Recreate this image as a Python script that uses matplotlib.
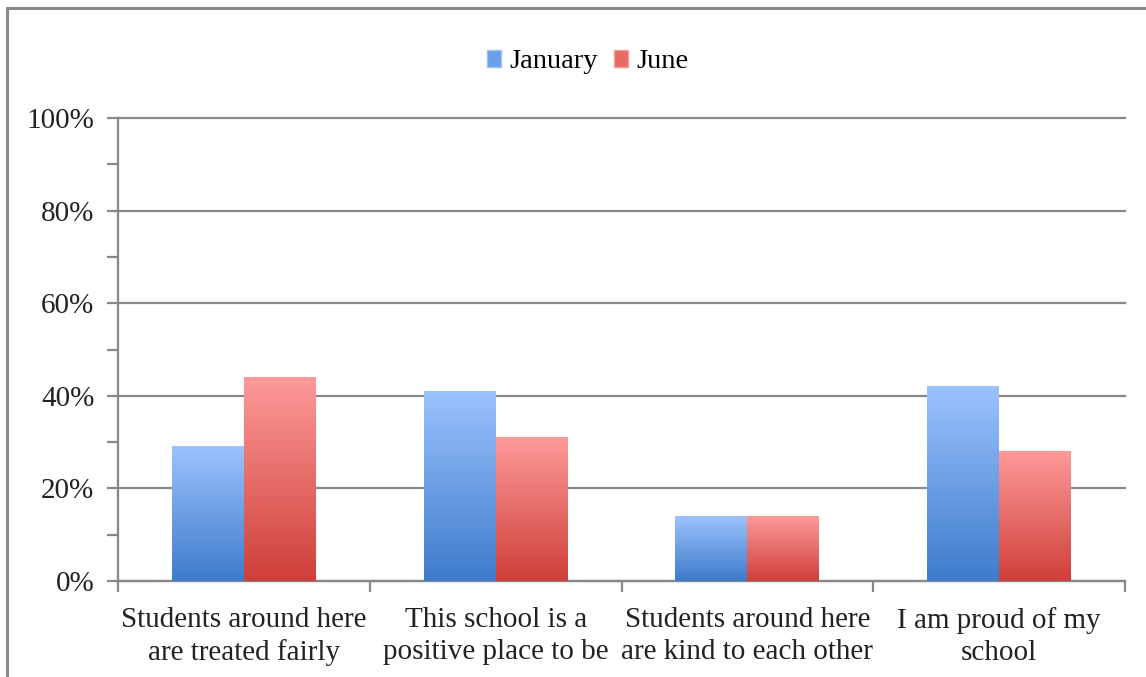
import numpy as np
import matplotlib
matplotlib.use("Agg")
import matplotlib.pyplot as plt
from matplotlib.colors import LinearSegmentedColormap
from matplotlib.patches import Rectangle, Patch

plt.rcParams['font.family'] = ['Liberation Serif', 'DejaVu Serif']

# data
categories = ['Students around here\nare treated fairly',
              'This school is a\npositive place to be',
              'Students around here\nare kind to each other',
              'I am proud of my\nschool']
january = [29, 41, 14, 42]
june = [44, 31, 14, 28]
series_names = ['January', 'June']

fig = plt.figure(figsize=(11.46, 6.77), dpi=100)
ax = fig.add_axes([0.103, 0.1418, 0.8787, 0.6839])

# outer chart border (cut off on the right and bottom)
fig.patches.append(Rectangle((7/1146, -0.05), 1.2, 1 - 8/677 + 0.05,
                             transform=fig.transFigure, fill=False,
                             edgecolor='#8a8a8a', linewidth=2.2, zorder=0))

x = np.arange(len(categories))
w = 0.286
bars_jan = ax.bar(x - w/2, january, w, color='none', zorder=3)
bars_jun = ax.bar(x + w/2, june, w, color='none', zorder=3)

blue_cmap = LinearSegmentedColormap.from_list('b', ['#3d7ccb', '#9cc2fd'])
red_cmap = LinearSegmentedColormap.from_list('r', ['#cf3f39', '#fd9a99'])
grad = np.linspace(0, 1, 256).reshape(-1, 1)

for bars, cmap in [(bars_jan, blue_cmap), (bars_jun, red_cmap)]:
    for b in bars:
        x0, y0 = b.get_x(), b.get_y()
        x1, y1 = x0 + b.get_width(), y0 + b.get_height()
        ax.imshow(grad, cmap=cmap, extent=(x0, x1, y0, y1), origin='lower',
                  aspect='auto', zorder=3, interpolation='bicubic')

ax.set_xlim(-0.5, len(categories) - 0.5)
ax.set_ylim(0, 100)

ax.set_yticks(range(0, 101, 20))
ax.set_yticklabels([f'{v}%' for v in range(0, 101, 20)], fontsize=21, color='#222222')
ax.set_yticks(range(10, 100, 20), minor=True)
ax.yaxis.grid(True, color='#888888', linewidth=1.6, zorder=1)
for gl in ax.get_ygridlines():
    gl.set_clip_on(False)
ax.set_axisbelow(True)

ax.set_xticks(x)
ax.set_xticklabels(categories, fontsize=21, color='#222222', linespacing=1.28)
ax.set_xticks(np.arange(-0.5, len(categories)), minor=True)
ax.tick_params(axis='x', which='major', length=0, pad=19)
ax.tick_params(axis='x', which='minor', length=8, width=1.6, color='#888888')
ax.tick_params(axis='y', which='both', length=8, width=1.6, color='#888888', pad=9)

for s in ['top', 'right']:
    ax.spines[s].set_visible(False)
for s in ['left', 'bottom']:
    ax.spines[s].set_color('#888888')
    ax.spines[s].set_linewidth(1.6)

handles = [Patch(facecolor='#6b9fe6', edgecolor='#9cc2fd'),
           Patch(facecolor='#e66a66', edgecolor='#fd9a99')]
fig.legend(handles, series_names, loc='center', bbox_to_anchor=(0.513, 1 - 62/677),
           ncol=2, frameon=False, fontsize=20.5, handlelength=0.5, handleheight=0.5,
           handletextpad=0.3, columnspacing=0.55)

fig.savefig('out.png', dpi=100)
